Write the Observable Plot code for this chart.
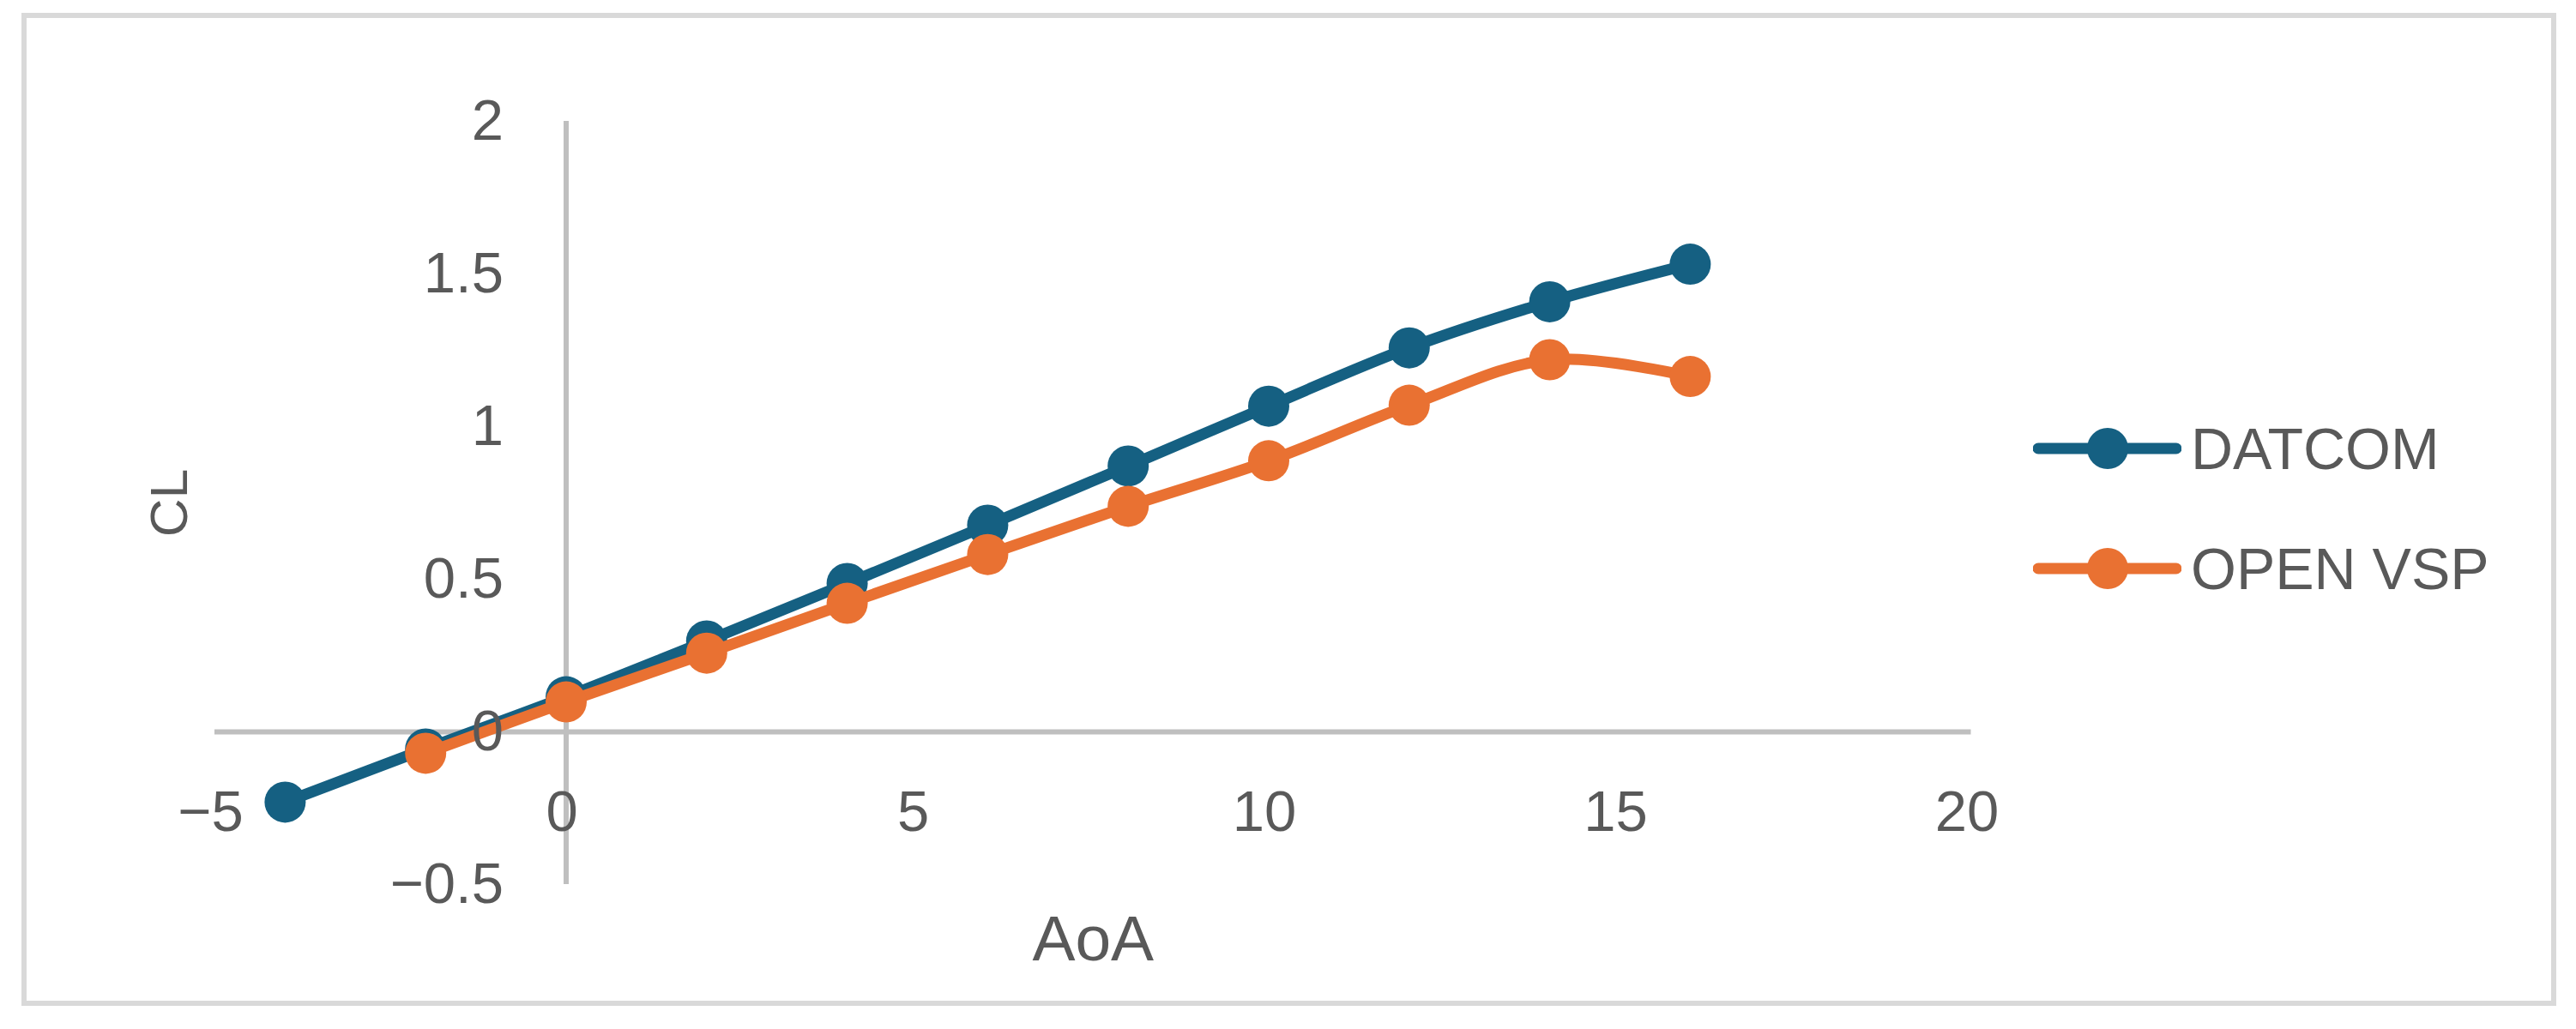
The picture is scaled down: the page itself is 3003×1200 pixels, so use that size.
<!DOCTYPE html>
<html>
<head>
<meta charset="utf-8">
<script src="https://cdn.jsdelivr.net/npm/d3@7"></script>
<script src="https://cdn.jsdelivr.net/npm/@observablehq/plot@0.6"></script>
<style>
  html, body { margin: 0; padding: 0; background: #ffffff; overflow: hidden; }
  #wrap { position: relative; width: 3003px; height: 1200px; font-family: "Liberation Sans", Arial, sans-serif; }
  #chart svg { display: block; }
  #border { position: absolute; left: 25px; top: 15px; width: 2955px; height: 1158px; box-sizing: border-box; border: 6px solid #d9d9d9; pointer-events: none; }
  #legend { position: absolute; left: 2370px; top: 499px; color: #595959; font-size: 68px; }
  .row { display: flex; align-items: center; height: 48px; margin-bottom: 92px; }
  .row svg { display: block; }
  .row span { margin-left: 11px; line-height: 1; white-space: nowrap; }
</style>
</head>
<body>
<div id="wrap">
  <div id="chart"></div>
  <div id="legend"></div>
  <div id="border"></div>
</div>
<script>
// ---- data ----
const seriesNames = ["DATCOM", "OPEN VSP"];
const seriesColors = ["#156082", "#E97132"];
const aoaDatcom = [-4, -2, 0, 2, 4, 6, 8, 10, 12, 14, 16];
const clDatcom  = [-0.230, -0.056, 0.115, 0.298, 0.486, 0.677, 0.871, 1.067, 1.258, 1.409, 1.532];
const aoaVsp = [-2, 0, 2, 4, 6, 8, 10, 12, 14, 16];
const clVsp  = [-0.070, 0.098, 0.258, 0.421, 0.581, 0.739, 0.888, 1.070, 1.219, 1.164];
const xTicks = [-5, 0, 5, 10, 15, 20];
const yTicks = [-0.5, 0, 0.5, 1, 1.5, 2];
const xTitle = "AoA";
const yTitle = "CL";

const fmt = d => (d < 0 ? "\u2212" + Math.abs(d) : String(d));
const datcom = aoaDatcom.map((x, i) => ({x, y: clDatcom[i]}));
const vsp = aoaVsp.map((x, i) => ({x, y: clVsp[i]}));

const textColor = "#595959";
const axisColor = "#bfbfbf";

const plot = Plot.plot({
  width: 3003,
  height: 1200,
  marginLeft: 250,
  marginRight: 705.5,
  marginTop: 141,
  marginBottom: 169,
  style: {fontFamily: "'Liberation Sans', Arial, sans-serif", background: "transparent"},
  x: {domain: [-5, 20], axis: null},
  y: {domain: [-0.5, 2], axis: null},
  marks: [
    Plot.ruleY([0], {stroke: axisColor, strokeWidth: 6}),
    Plot.ruleX([0], {stroke: axisColor, strokeWidth: 6}),
    Plot.line(datcom, {x: "x", y: "y", stroke: seriesColors[0], strokeWidth: 13, curve: "catmull-rom", strokeLinecap: "round", strokeLinejoin: "round"}),
    Plot.dot(datcom, {x: "x", y: "y", r: 24, fill: seriesColors[0], stroke: "none"}),
    Plot.line(vsp, {x: "x", y: "y", stroke: seriesColors[1], strokeWidth: 13, curve: "catmull-rom", strokeLinecap: "round", strokeLinejoin: "round"}),
    Plot.dot(vsp, {x: "x", y: "y", r: 24, fill: seriesColors[1], stroke: "none"}),
    // y tick labels, placed next to the vertical axis (at x = 0)
    Plot.text(yTicks, {x: d => 0, y: d => d, text: fmt, textAnchor: "end", dx: -73, fill: textColor, fontSize: 67, lineAnchor: "middle"}),
    // x tick labels, placed below the horizontal axis (at y = 0)
    Plot.text(xTicks, {x: d => d, y: d => 0, text: fmt, textAnchor: "middle", dx: -5, dy: 94, fill: textColor, fontSize: 67, lineAnchor: "middle"}),
    // axis titles
    Plot.text([yTitle], {frameAnchor: "left", text: d => d, rotate: -90, dx: -52, fill: textColor, fontSize: 62, textAnchor: "middle", lineAnchor: "middle"}),
    Plot.text([xTitle], {frameAnchor: "bottom", text: d => d, dy: 64, fill: textColor, fontSize: 75, textAnchor: "middle", lineAnchor: "middle"})
  ]
});
document.getElementById("chart").appendChild(plot);

// ---- legend ----
const legend = d3.select("#legend");
seriesNames.forEach((name, i) => {
  const row = legend.append("div").attr("class", "row");
  const sw = row.append("svg").attr("width", 173).attr("height", 48);
  sw.append("line").attr("x1", 6).attr("x2", 167).attr("y1", 24).attr("y2", 24)
    .attr("stroke", seriesColors[i]).attr("stroke-width", 13).attr("stroke-linecap", "round");
  sw.append("circle").attr("cx", 87).attr("cy", 24).attr("r", 24).attr("fill", seriesColors[i]);
  row.append("span").text(name);
});
</script>
</body>
</html>
